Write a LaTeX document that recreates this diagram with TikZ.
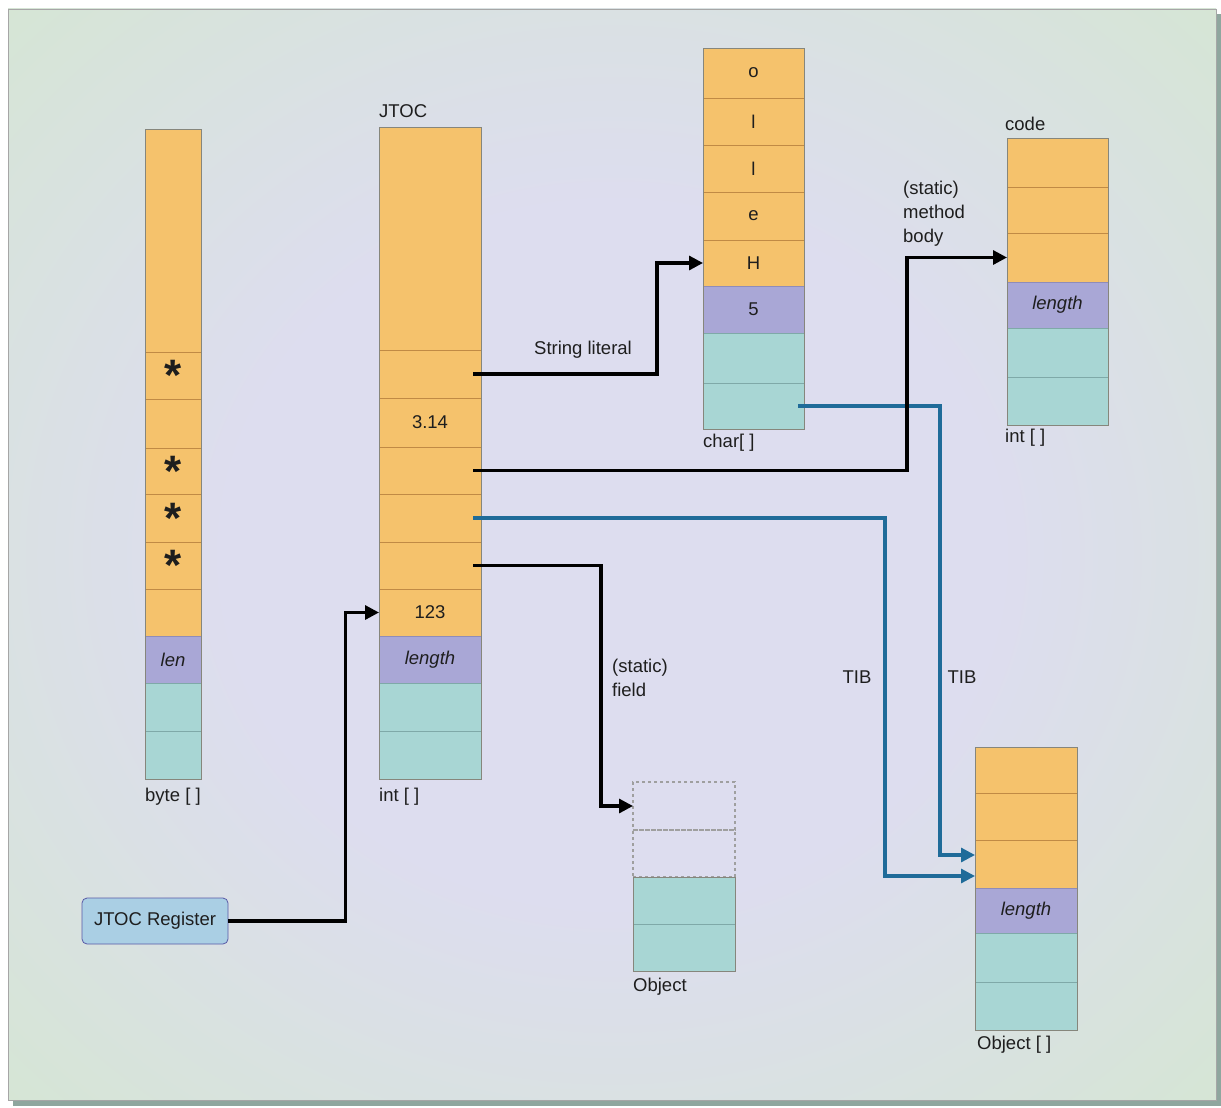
\documentclass[tikz,border=0pt]{standalone}
\usepackage{fontspec}
\setmainfont{Liberation Sans}
\usetikzlibrary{arrows.meta}
\definecolor{org}{HTML}{F5C26C}
\definecolor{orgline}{HTML}{C08A45}
\definecolor{pur}{HTML}{A9A7D6}
\definecolor{purline}{HTML}{8F8CB8}
\definecolor{tea}{HTML}{A8D6D4}
\definecolor{tealine}{HTML}{7FA9A8}
\definecolor{outl}{HTML}{86867C}
\definecolor{bluearr}{HTML}{1F6B99}
\definecolor{lav}{HTML}{DDDDEF}
\definecolor{grn}{HTML}{D3E8CC}
\definecolor{regfill}{HTML}{AACFE4}
\definecolor{txt}{HTML}{1E1E1E}
\definecolor{shadowc}{HTML}{8FA69E}
\pgfdeclareradialshading{bgshade}{\pgfpoint{0bp}{0bp}}{color(0bp)=(lav); color(16bp)=(lav); color(42bp)=(grn); color(50bp)=(grn)}
\newcommand{\astk}{\raisebox{-0.2em}{\fontsize{44}{44}\selectfont\bfseries *}}
\tikzset{
  cell/.style={rectangle, inner sep=0pt, outer sep=0pt, line width=0.8pt},
  cO/.style={cell, fill=org, draw=orgline},
  cP/.style={cell, fill=pur, draw=purline, font=\fontsize{18.5}{22}\selectfont\itshape},
  cT/.style={cell, fill=tea, draw=tealine},
  cD/.style={cell, draw=gray!75, dashed, line width=1.2pt},
  cw/.style={minimum width=#1},
  chh/.style={minimum height=#1},
  lbl/.style={anchor=west, inner sep=0pt},
  arrout/.style={draw=outl, line width=0.9pt},
  arr/.style={line width=3.2pt, -{Triangle[length=14pt,width=14pt]}},
  barr/.style={arr, bluearr},
}
\begin{document}
\begin{tikzpicture}[x=1pt, y=-1pt, font=\fontsize{18.5}{24}\selectfont, text=txt]
\useasboundingbox (0,0) rectangle (1221,1108);
\fill[white] (0,0) rectangle (1221,1108);
% frame with shadow
\fill[shadowc] (13,14) rectangle (1221,1106);
\shade[shading=bgshade] (8,9) rectangle (1216,1100);
\draw[gray!70, line width=0.8pt] (8,9) rectangle (1216,1100);

% byte []
\node[cO,cw=56,chh=223] (b0) at (173,240.5) {};
\node[cO,cw=56,chh=47] (b1) at (173,375.5) {\astk};
\node[cO,cw=56,chh=49] (b2) at (173,423.5) {};
\node[cO,cw=56,chh=46] (b3) at (173,471) {\astk};
\node[cO,cw=56,chh=48] (b4) at (173,518) {\astk};
\node[cO,cw=56,chh=47] (b5) at (173,565.5) {\astk};
\node[cO,cw=56,chh=47] (b6) at (173,612.5) {};
\node[cP,cw=56,chh=47] (b7) at (173,659.5) {len};
\node[cT,cw=56,chh=48] (b8) at (173,707) {};
\node[cT,cw=56,chh=48] (b9) at (173,755) {};
\draw[arrout] (b0.north west) rectangle (b9.south east);
\node[lbl] (lbyte) at (145,797) {byte [ ]};

% JTOC int []
\node[cO,cw=102,chh=223] (j0) at (430,238.5) {};
\node[cO,cw=102,chh=48] (j1) at (430,374) {};
\node[cO,cw=102,chh=49] (j2) at (430,422.5) {3.14};
\node[cO,cw=102,chh=47] (j3) at (430,470.5) {};
\node[cO,cw=102,chh=48] (j4) at (430,518) {};
\node[cO,cw=102,chh=47] (j5) at (430,565.5) {};
\node[cO,cw=102,chh=47] (j6) at (430,612.5) {123};
\node[cP,cw=102,chh=47] (j7) at (430,659.5) {length};
\node[cT,cw=102,chh=48] (j8) at (430,707) {};
\node[cT,cw=102,chh=48] (j9) at (430,755) {};
\draw[arrout] (j0.north west) rectangle (j9.south east);
\node[lbl] (ljtoc) at (379,111) {JTOC};
\node[lbl] (lint1) at (379,797) {int [ ]};

% char []
\node[cO,cw=101,chh=50] (c0) at (753.5,73) {o};
\node[cO,cw=101,chh=47] (c1) at (753.5,121.5) {l};
\node[cO,cw=101,chh=47] (c2) at (753.5,168.5) {l};
\node[cO,cw=101,chh=48] (c3) at (753.5,216) {e};
\node[cO,cw=101,chh=46] (c4) at (753.5,263) {H};
\node[cP,cw=101,chh=47,font=\fontsize{18.5}{22}\selectfont] (c5) at (753.5,309.5) {5};
\node[cT,cw=101,chh=50] (c6) at (753.5,358) {};
\node[cT,cw=101,chh=46] (c7) at (753.5,406) {};
\draw[arrout] (c0.north west) rectangle (c7.south east);
\node[lbl] (lchar) at (703,443) {char[ ]};

% code int []
\node[cO,cw=101,chh=49] (k0) at (1057.5,162.5) {};
\node[cO,cw=101,chh=46] (k1) at (1057.5,210) {};
\node[cO,cw=101,chh=49] (k2) at (1057.5,257.5) {};
\node[cP,cw=101,chh=46] (k3) at (1057.5,305) {length};
\node[cT,cw=101,chh=49] (k4) at (1057.5,352.5) {};
\node[cT,cw=101,chh=48] (k5) at (1057.5,401) {};
\draw[arrout] (k0.north west) rectangle (k5.south east);
\node[lbl] (lcode) at (1005,124) {code};
\node[lbl] (lint2) at (1005,438) {int [ ]};

% Object
\node[cD,cw=102,chh=48] (ob0) at (684,806) {};
\node[cD,cw=102,chh=47] (ob1) at (684,853.5) {};
\node[cT,cw=102,chh=47] (ob2) at (684,900.5) {};
\node[cT,cw=102,chh=47] (ob3) at (684,947.5) {};
\draw[arrout] (ob2.north west) rectangle (ob3.south east);
\node[lbl] (lobj) at (633,987) {Object};

% Object []
\node[cO,cw=102,chh=46] (oa0) at (1026,770) {};
\node[cO,cw=102,chh=47] (oa1) at (1026,816.5) {};
\node[cO,cw=102,chh=48] (oa2) at (1026,864) {};
\node[cP,cw=102,chh=45] (oa3) at (1026,910.5) {length};
\node[cT,cw=102,chh=49] (oa4) at (1026,957.5) {};
\node[cT,cw=102,chh=48] (oa5) at (1026,1006) {};
\draw[arrout] (oa0.north west) rectangle (oa5.south east);
\node[lbl] (lobja) at (977,1045) {Object [ ]};

% JTOC register
\node[draw=gray!70!blue, fill=regfill, rounded corners=5pt, minimum width=146, minimum height=46, inner sep=0pt, line width=0.8pt] (reg) at (155,921) {JTOC Register};

% labels on connectors
\node (lstr) at (583,350) {String literal};
\node[lbl, align=left] (lmeth) at (903,214) {(static)\\method\\body};
\node[lbl, align=left] (lfield) at (612,678) {(static)\\field};
\node (ltib1) at (857,677) {TIB};
\node (ltib2) at (962,677) {TIB};

% connectors
\draw[barr] ([xshift=-6]c7.east) -- ++(142,0) |- ([yshift=9]oa2.west);
\draw[barr] ([xshift=-8]j4.east) -- ++(412,0) |- ([yshift=-12]oa2.west);
\draw[arr] ([xshift=-8]j1.east) -- ++(184,0) |- (c4.west);
\draw[arr] ([xshift=-8]j3.east) -- ++(434,0) |- (k2.west);
\draw[arr] ([xshift=-8]j5.east) -- ++(128,0) |- (ob0.west);
\draw[arr] (reg.east) -- ++(117,0) |- (j6.west);
\end{tikzpicture}
\end{document}
